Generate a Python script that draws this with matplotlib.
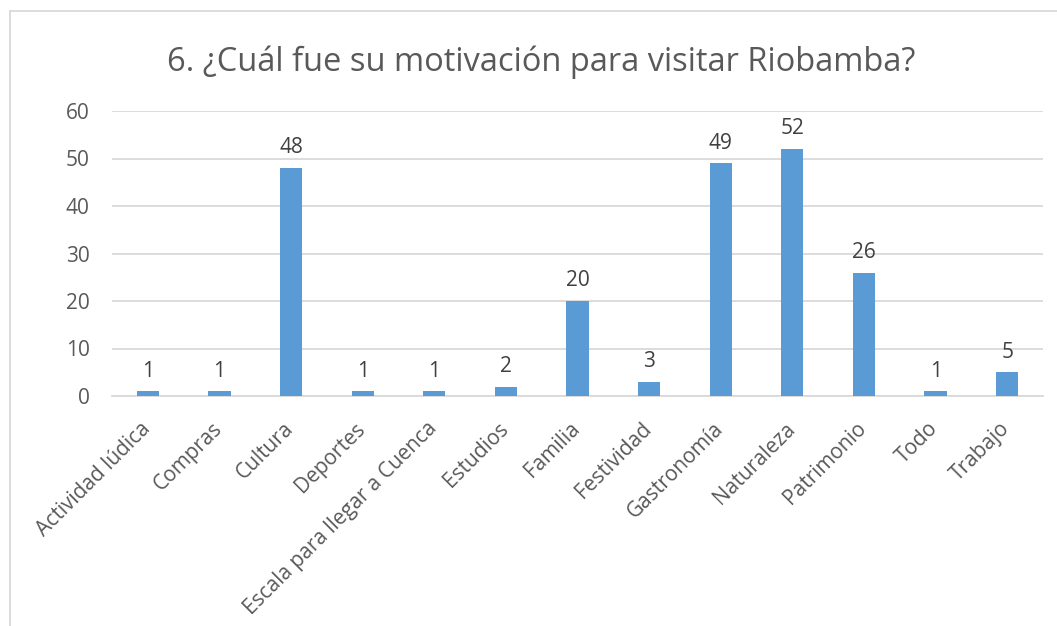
import matplotlib
matplotlib.use("Agg")
import matplotlib.pyplot as plt
from matplotlib.patches import Rectangle
from matplotlib.transforms import ScaledTranslation

categories = ["Actividad lúdica", "Compras", "Cultura", "Deportes",
              "Escala para llegar a Cuenca", "Estudios", "Familia", "Festividad",
              "Gastronomía", "Naturaleza", "Patrimonio", "Todo", "Trabajo"]
values = [1, 1, 48, 1, 1, 2, 20, 3, 49, 52, 26, 1, 5]
yticks = [0, 10, 20, 30, 40, 50, 60]
title = "6. ¿Cuál fue su motivación para visitar Riobamba?"

plt.rcParams['font.family'] = ['Open Sans', 'DejaVu Sans']
text_col = "#595959"

W, H = 1057, 626
fig = plt.figure(figsize=(W / 100, H / 100), dpi=100)
ax = fig.add_axes([112 / W, 1 - 396 / H, (1043 - 112) / W, (396 - 111) / H])

# chart border (cut off at right and bottom like the source image)
fig.patches.append(Rectangle((10 / W, -0.05), 1.2, 1 - 11 / H + 0.05,
                             transform=fig.transFigure, fill=False,
                             edgecolor="#D9D9D9", linewidth=1.3))

x = range(len(categories))
bars = ax.bar(x, values, width=0.31, color="#5B9BD5", zorder=3)
for xi, v in zip(x, values):
    ax.annotate(str(v), (xi, v), xytext=(0, 7), textcoords="offset points",
                ha="center", va="bottom", fontsize=15, color="#404040")

ax.set_xlim(-0.5, len(categories) - 0.5)
ax.set_ylim(0, 60)
ax.set_yticks(yticks)
ax.yaxis.grid(True, color="#D9D9D9", linewidth=1.3, zorder=0)
ax.tick_params(axis="both", length=0, colors=text_col, labelsize=15)
ax.tick_params(axis="y", pad=16)
ax.set_xticks(list(x))
ax.set_xticklabels(categories, rotation=45, ha="right", rotation_mode="anchor")
ax.tick_params(axis="x", pad=16)
shift = ScaledTranslation(-8 / 100, 0, fig.dpi_scale_trans)
for lab in ax.get_xticklabels():
    lab.set_transform(lab.get_transform() + shift)
for s in ["top", "right", "left"]:
    ax.spines[s].set_visible(False)
ax.spines["bottom"].set_color("#D9D9D9")
ax.spines["bottom"].set_linewidth(1.3)

fig.text(541 / W, 1 - 62 / H, title, ha="center", va="center",
         fontsize=23.5, color=text_col)

fig.savefig("out.png", dpi=100)
